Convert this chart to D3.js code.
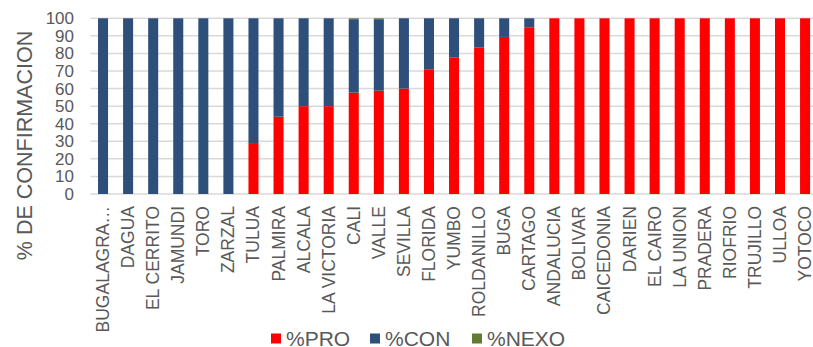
<!DOCTYPE html>
<html>
<head>
<meta charset="utf-8">
<script src="https://cdn.jsdelivr.net/npm/d3@7"></script>
<style>
  html, body { margin: 0; padding: 0; background: #fff; }
  svg { display: block; font-family: "Liberation Sans", Arial, sans-serif; }
</style>
</head>
<body>
<svg id="chart" width="813" height="347"></svg>
<script>
// Municipios y porcentajes de confirmación por tipo
const categories = ["BUGALAGRA…", "DAGUA", "EL CERRITO", "JAMUNDI", "TORO", "ZARZAL",
  "TULUA", "PALMIRA", "ALCALA", "LA VICTORIA", "CALI", "VALLE", "SEVILLA", "FLORIDA",
  "YUMBO", "ROLDANILLO", "BUGA", "CARTAGO", "ANDALUCIA", "BOLIVAR", "CAICEDONIA",
  "DARIEN", "EL CAIRO", "LA UNION", "PRADERA", "RIOFRIO", "TRUJILLO", "ULLOA", "YOTOCO"];
const pro  = [0, 0, 0, 0, 0, 0, 29, 44, 50, 50, 57.7, 58.8, 60, 71, 77.8, 83.3, 89.4, 94.9,
  100, 100, 100, 100, 100, 100, 100, 100, 100, 100, 100];
const con  = [100, 100, 100, 100, 100, 100, 71, 56, 50, 50, 41.8, 40.7, 40, 29, 22.2, 16.7, 10.6, 5.1,
  0, 0, 0, 0, 0, 0, 0, 0, 0, 0, 0];
const nexo = [0, 0, 0, 0, 0, 0, 0, 0, 0, 0, 0.5, 0.5, 0, 0, 0, 0, 0, 0,
  0, 0, 0, 0, 0, 0, 0, 0, 0, 0, 0];
const seriesNames = ["%PRO", "%CON", "%NEXO"];
const yTicks = [0, 10, 20, 30, 40, 50, 60, 70, 80, 90, 100];
const colors = ["#FF0000", "#2D4F79", "#627A33"];

const rows = categories.map((c, i) => ({ cat: c, "%PRO": pro[i], "%CON": con[i], "%NEXO": nexo[i] }));

const svg = d3.select("#chart");
const textColor = "#595959";

const x = d3.scaleBand().domain(categories).range([90.5, 817.6]).paddingInner(0.6).paddingOuter(0.3);
const y = d3.scaleLinear().domain([0, 100]).range([194, 18.3]);
const color = d3.scaleOrdinal().domain(seriesNames).range(colors);

// Líneas de cuadrícula horizontales
svg.append("g")
  .selectAll("line")
  .data(yTicks)
  .join("line")
  .attr("x1", 90.5).attr("x2", 817.6)
  .attr("y1", d => y(d)).attr("y2", d => y(d))
  .attr("stroke", "#D9D9D9").attr("stroke-width", 1.5);

// Barras apiladas
const stacked = d3.stack().keys(seriesNames)(rows);
svg.append("g")
  .selectAll("g")
  .data(stacked)
  .join("g")
  .attr("fill", d => color(d.key))
  .selectAll("rect")
  .data(d => d)
  .join("rect")
  .attr("x", d => x(d.data.cat))
  .attr("width", x.bandwidth())
  .attr("y", d => y(d[1]))
  .attr("height", d => y(d[0]) - y(d[1]));

// Eje Y
const yAxis = svg.append("g")
  .attr("transform", "translate(74,0)")
  .call(d3.axisLeft(y).tickValues(yTicks).tickSize(0).tickPadding(0));
yAxis.select(".domain").remove();
yAxis.selectAll("text")
  .attr("fill", textColor)
  .style("font-size", "17px")
  .style("font-family", "'Liberation Sans', Arial, sans-serif");

// Eje X con etiquetas verticales
const xAxis = svg.append("g")
  .attr("transform", "translate(0,194)")
  .call(d3.axisBottom(x).tickSize(0).tickPadding(0));
xAxis.select(".domain").remove();
xAxis.selectAll("text")
  .attr("fill", textColor)
  .style("font-size", "17.5px")
  .style("font-family", "'Liberation Sans', Arial, sans-serif")
  .attr("text-anchor", "end")
  .attr("dy", null)
  .attr("y", 0)
  .attr("transform", "translate(6,12) rotate(-90)");

// Título del eje Y
svg.append("text")
  .attr("transform", "translate(32,145.5) rotate(-90)")
  .attr("text-anchor", "middle")
  .attr("fill", textColor)
  .style("font-size", "21.5px")
  .text("% DE CONFIRMACION");

// Leyenda
const legendX = [271, 370, 472];
const legend = svg.append("g")
  .selectAll("g")
  .data(seriesNames)
  .join("g")
  .attr("transform", (d, i) => `translate(${legendX[i]},0)`);
legend.append("rect")
  .attr("x", 0).attr("y", 333.5)
  .attr("width", 10).attr("height", 10)
  .attr("fill", d => color(d));
legend.append("text")
  .attr("x", 15).attr("y", 346)
  .attr("fill", textColor)
  .style("font-size", "21px")
  .text(d => d);
</script>
</body>
</html>
